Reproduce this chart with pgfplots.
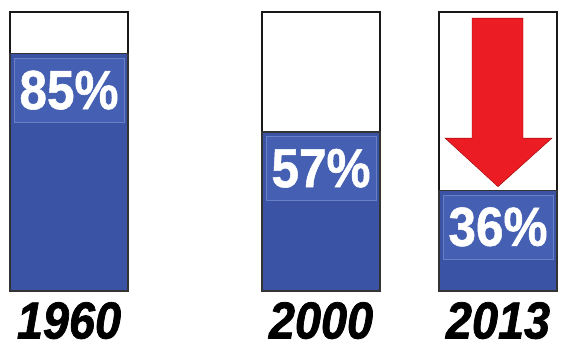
\documentclass[border=0pt]{standalone}
\usepackage{pgfplots}
\pgfplotsset{compat=1.18}
\usepackage{fontspec}
\setmainfont{Liberation Sans}
\newfontface\yearfont[FakeBold=1.5]{Liberation Sans Bold Italic}
\newfontface\pctfont[FakeBold=1]{Liberation Sans Bold}
\definecolor{barblue}{HTML}{3A53A4}
\definecolor{lblblue}{HTML}{4560B2}
\definecolor{lbledge}{HTML}{6A80C4}
\definecolor{arrowred}{HTML}{EC1C24}
\begin{document}
\begin{tikzpicture}
\useasboundingbox (0pt,-57pt) rectangle (561pt,291pt);
\begin{axis}[
  at={(0pt,0pt)}, anchor=south west,
  width=561pt, height=279pt, scale only axis,
  xmin=0, xmax=561, ymin=0, ymax=100,
  clip=false,
  axis line style={draw=none},
  major tick length=0pt,
  ytick=\empty,
  xtick={69,321,498},
  xticklabels={\scalebox{0.9}[1]{1960},\scalebox{0.9}[1]{2000},\scalebox{0.9}[1]{2013}},
  xticklabel style={anchor=north, yshift=-11pt, inner sep=0pt,
    font=\fontsize{52}{52}\selectfont\yearfont},
]
% outline boxes (100%)
\addplot[ybar, bar width=118pt, bar shift=0pt, fill=white, draw=black!90, line width=1.6pt]
  coordinates {(69,100) (321,100) (498,100)};
% share bars
\addplot[ybar, bar width=118pt, bar shift=0pt, fill=barblue, draw=black!80, line width=1.2pt,
  point meta=explicit symbolic,
  nodes near coords,
  every node near coord/.style={anchor=north, yshift=-4pt, fill=lblblue, draw=lbledge,
    line width=0.6pt, text=white, minimum width=110pt, minimum height=64pt, inner sep=0pt,
    font=\fontsize{55}{55}\selectfont\pctfont},
  nodes near coords={\scalebox{0.9}[1]{\pgfplotspointmeta}},
]
  coordinates {(69,85) [85\%] (321,57) [57\%] (498,36) [36\%]};
% red arrow
\fill[arrowred, draw=red!60!black, line width=0.4pt]
  (axis cs:472,97.8) -- (axis cs:523,97.8) -- (axis cs:523,54.8) -- (axis cs:552,54.8)
  -- (axis cs:498,37.4) -- (axis cs:445,54.8) -- (axis cs:472,54.8) -- cycle;
\end{axis}
\end{tikzpicture}
\end{document}
